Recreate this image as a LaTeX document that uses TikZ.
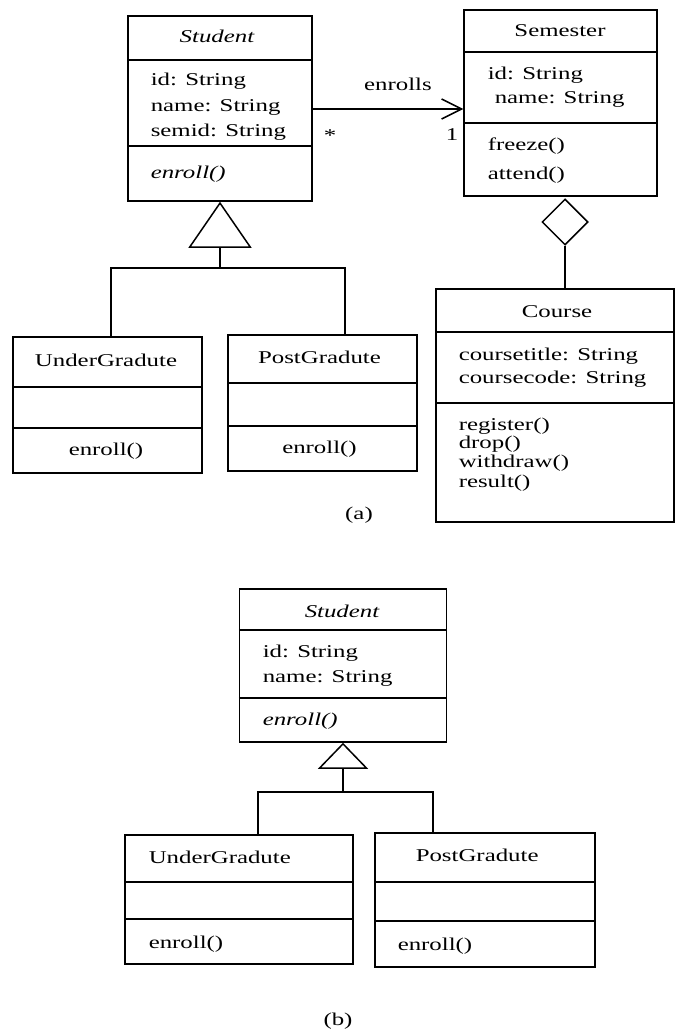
\documentclass[tikz,border=0pt]{standalone}
\usepackage{fontspec}
\setmainfont{Liberation Serif}[FakeStretch=1.38]
\usetikzlibrary{arrows.meta,shapes.geometric}
\begin{document}
\begin{tikzpicture}[x=1pt,y=-1pt,line width=1.5pt,
  cls/.style={draw,rectangle,inner sep=0pt},
  txt/.style={anchor=base west,inner sep=0pt,font=\fontsize{18}{22}\selectfont},
  ctxt/.style={anchor=base,inner sep=0pt,font=\fontsize{18}{22}\selectfont},
  itx/.style={txt,font=\fontsize{18}{22}\selectfont\itshape},
  citx/.style={ctxt,font=\fontsize{18}{22}\selectfont\itshape},
  assoc/.style={-{Straight Barb[length=20pt,width=20pt]}},
  agg/.style={draw,diamond,inner sep=0pt,minimum width=46pt,minimum height=46pt}]
\useasboundingbox (0,0) rectangle (675,1030);

% ---------- (a) ----------
% Student
\node[cls,minimum width=184pt,minimum height=185pt] (stuA) at (220,108.5) {};
\draw (stuA.west |- 0,60) -- (stuA.east |- 0,60);
\draw (stuA.west |- 0,146) -- (stuA.east |- 0,146);
\node[citx] (stuAt) at (217,43) {Student};
\node[txt] (stuA1) at (150,86) {id: String};
\node[txt] (stuA2) at (150,112) {name: String};
\node[txt] (stuA3) at (150,136) {semid: String};
\node[itx] (stuA4) at (150,178) {enroll()};

% Semester
\node[cls,minimum width=193pt,minimum height=186pt] (semA) at (560.5,103) {};
\draw (semA.west |- 0,52) -- (semA.east |- 0,52);
\draw (semA.west |- 0,123) -- (semA.east |- 0,123);
\node[ctxt] (semAt) at (560,37) {Semester};
\node[txt] (semA1) at (487,80) {id: String};
\node[txt] (semA2) at (494,104) {name: String};
\node[txt] (semA3) at (487,150) {freeze()};
\node[txt] (semA4) at (487,179) {attend()};

% Course
\node[cls,minimum width=238pt,minimum height=233pt] (crs) at (555,405.5) {};
\draw (crs.west |- 0,332) -- (crs.east |- 0,332);
\draw (crs.west |- 0,403) -- (crs.east |- 0,403);
\node[ctxt] (crst) at (557,317) {Course};
\node[txt] (crs1) at (458,360) {coursetitle: String};
\node[txt] (crs2) at (458,383) {coursecode: String};
\node[txt] (crs3) at (458,430) {register()};
\node[txt] (crs4) at (458,448) {drop()};
\node[txt] (crs5) at (458,467) {withdraw()};
\node[txt] (crs6) at (458,487) {result()};

% UnderGradute (a)
\node[cls,minimum width=189pt,minimum height=136pt] (ugA) at (107.5,405) {};
\draw (ugA.west |- 0,387) -- (ugA.east |- 0,387);
\draw (ugA.west |- 0,428) -- (ugA.east |- 0,428);
\node[ctxt] (ugAt) at (106,366) {UnderGradute};
\node[ctxt] (ugA1) at (106,455) {enroll()};

% PostGradute (a)
\node[cls,minimum width=189pt,minimum height=136pt] (pgA) at (322.5,403) {};
\draw (pgA.west |- 0,383) -- (pgA.east |- 0,383);
\draw (pgA.west |- 0,426) -- (pgA.east |- 0,426);
\node[ctxt] (pgAt) at (319.5,363) {PostGradute};
\node[ctxt] (pgA1) at (319.5,453) {enroll()};

% generalization (a)
\coordinate (jA) at (stuA.south |- 0,268);
\draw ([xshift=3.5pt]ugA.north) |- (jA) -| ([xshift=22.5pt]pgA.north);
\draw[-{Triangle[open,length=46pt,width=63pt]}] (jA) -- (stuA.south);

% association
\draw[assoc] (stuA.east |- 0,109) -- (semA.west |- 0,109);
\node[ctxt] (enr) at (398,91) {enrolls};
\node[ctxt] (mstar) at (330,141) {*};
\node[ctxt] (mone) at (452,140) {1};

% aggregation
\node[agg] (dia) at (565,222) {};
\draw (dia.south) -- (dia.south |- crs.north);

\node[ctxt] (capA) at (359,519) {(a)};

% ---------- (b) ----------
\node[cls,minimum width=207pt,minimum height=153pt] (stuB) at (343,665.5) {};
\draw (stuB.west |- 0,630) -- (stuB.east |- 0,630);
\draw (stuB.west |- 0,698) -- (stuB.east |- 0,698);
\node[citx] (stuBt) at (342,617) {Student};
\node[txt] (stuB1) at (262,657) {id: String};
\node[txt] (stuB2) at (262,682) {name: String};
\node[itx] (stuB3) at (262,725) {enroll()};

\node[cls,minimum width=228pt,minimum height=129pt] (ugB) at (239,899.5) {};
\draw (ugB.west |- 0,882) -- (ugB.east |- 0,882);
\draw (ugB.west |- 0,919) -- (ugB.east |- 0,919);
\node[txt] (ugBt) at (148,863) {UnderGradute};
\node[txt] (ugB1) at (148,948) {enroll()};

\node[cls,minimum width=220pt,minimum height=134pt] (pgB) at (485,900) {};
\draw (pgB.west |- 0,882) -- (pgB.east |- 0,882);
\draw (pgB.west |- 0,921) -- (pgB.east |- 0,921);
\node[txt] (pgBt) at (415,861) {PostGradute};
\node[txt] (pgB1) at (397,950) {enroll()};

\coordinate (jB) at (stuB.south |- 0,792);
\draw ([xshift=19pt]ugB.north) |- (jB) -| ([xshift=-52pt]pgB.north);
\draw[-{Triangle[open,length=26pt,width=50pt]}] (jB) -- (stuB.south);

\node[ctxt] (capB) at (338,1025) {(b)};
\end{tikzpicture}
\end{document}
